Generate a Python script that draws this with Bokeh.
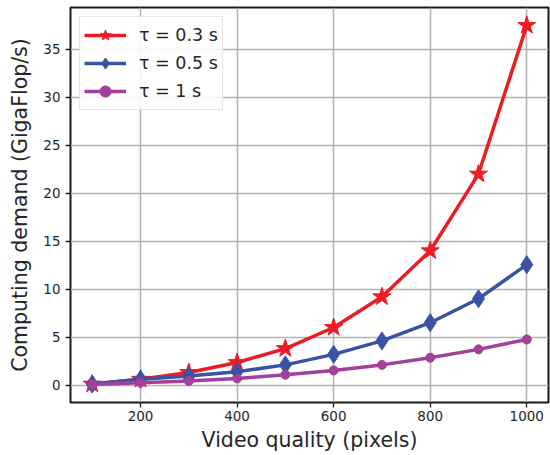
from bokeh.plotting import figure
from bokeh.models import Range1d, FixedTicker, Legend, LegendItem
from bokeh.embed import file_html
from bokeh.resources import INLINE

# Data
quality = [100, 200, 300, 400, 500, 600, 700, 800, 900, 1000]
tau_03 = [0.1, 0.6, 1.3, 2.35, 3.8, 6.0, 9.2, 14.0, 22.0, 37.5]
tau_05 = [0.1, 0.6, 0.95, 1.38, 2.1, 3.2, 4.6, 6.5, 9.0, 12.55]
tau_1 = [0.05, 0.25, 0.42, 0.69, 1.07, 1.52, 2.1, 2.85, 3.72, 4.75]
labels = ["τ = 0.3 s", "τ = 0.5 s", "τ = 1 s"]
y_ticks = [0, 5, 10, 15, 20, 25, 30, 35]
x_ticks = [200, 400, 600, 800, 1000]

FONT = "DejaVu Sans"
TXT = "#262626"

xmin, xmax = min(quality), max(quality)
allv = tau_03 + tau_05 + tau_1
ymin, ymax = min(allv), max(allv)
xs, ys = xmax - xmin, ymax - ymin

p = figure(frame_width=478, frame_height=395, output_backend="svg", toolbar_location=None,
           x_range=Range1d(xmin - 0.05 * xs, xmax + 0.05 * xs),
           y_range=Range1d(ymin - 0.05 * ys, ymax + 0.05 * ys),
           min_border_left=70, min_border_right=2, min_border_top=7, min_border_bottom=53)

p.outline_line_color = "#1a1a1a"
p.outline_line_width = 2
p.background_fill_color = "white"
p.border_fill_color = "white"

for g in (p.xgrid[0], p.ygrid[0]):
    g.grid_line_color = "#b4b4b4"
    g.grid_line_width = 1.6
p.xgrid[0].ticker = FixedTicker(ticks=x_ticks)
p.ygrid[0].ticker = FixedTicker(ticks=y_ticks)

for ax in (p.xaxis[0], p.yaxis[0]):
    ax.axis_line_color = None
    ax.major_tick_line_color = "#1a1a1a"
    ax.major_tick_line_width = 1.3
    ax.major_tick_out = 5
    ax.major_tick_in = 0
    ax.minor_tick_line_color = None
    ax.major_label_text_font = FONT
    ax.major_label_text_font_size = "13.5px"
    ax.major_label_text_color = TXT
    ax.axis_label_text_font = FONT
    ax.axis_label_text_font_size = "20.5px"
    ax.axis_label_text_font_style = "normal"
    ax.axis_label_text_color = TXT

p.xaxis[0].ticker = FixedTicker(ticks=x_ticks)
p.yaxis[0].ticker = FixedTicker(ticks=y_ticks)
p.xaxis[0].axis_label = "Video quality (pixels)"
p.yaxis[0].axis_label = "Computing demand (GigaFlop/s)"
p.xaxis[0].major_label_standoff = 3
p.xaxis[0].axis_label_standoff = 4
p.yaxis[0].major_label_standoff = 5
p.yaxis[0].axis_label_standoff = 8

series = [
    (tau_03, "#ed1c24", "star", 19),
    (tau_05, "#3953a4", "diamond", 18),
    (tau_1, "#a2409a", "circle", 9),
]
items = []
for (vals, col, mk, sz), lab in zip(series, labels):
    l = p.line(quality, vals, line_color=col, line_width=3.5)
    s = p.scatter(quality, vals, marker=mk, size=sz, fill_color=col, line_color=col)
    items.append(LegendItem(label=lab, renderers=[l, s]))

legend = Legend(items=items, location="top_left")
legend.label_text_font = FONT
legend.label_text_font_size = "17.5px"
legend.label_text_color = TXT
legend.glyph_width = 42
legend.glyph_height = 28
legend.label_height = 28
legend.spacing = 0
legend.padding = 4
legend.margin = 9
legend.label_standoff = 13
legend.border_line_color = "#cccccc"
legend.border_line_width = 1
legend.background_fill_color = "white"
legend.background_fill_alpha = 0.85
p.add_layout(legend)

open("out.html", "w").write(file_html(p, INLINE))
